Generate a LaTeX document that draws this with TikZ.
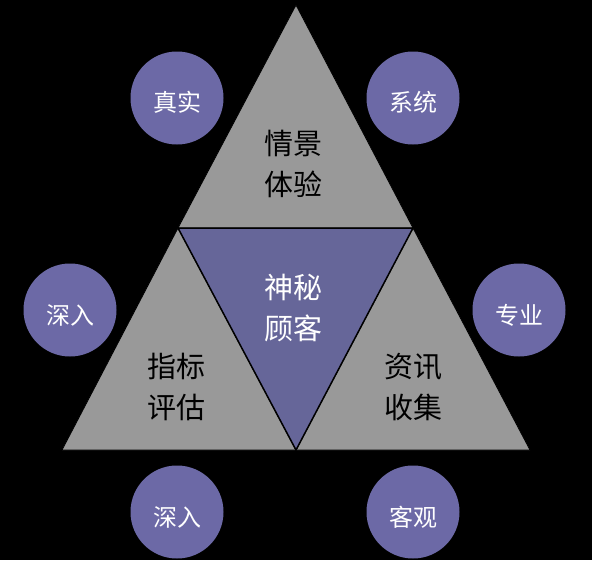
\documentclass[tikz,border=0pt]{standalone}
\usepackage{fontspec}
\newfontfamily\cjk{Noto Sans CJK SC}
\definecolor{trigray}{RGB}{153,153,153}
\definecolor{centerpurple}{RGB}{102,102,153}
\definecolor{circpurple}{RGB}{108,105,166}
\begin{document}
\begin{tikzpicture}[x=1pt,y=-1pt,
  tri/.style={fill=trigray,draw=black,line width=0.8pt,line join=miter},
  ctri/.style={fill=centerpurple,draw=black,line width=1.5pt,line join=miter},
  bubble/.style={circle,fill=circpurple,minimum size=93pt,inner sep=0pt},
  bubtext/.style={inner sep=0pt,text=white,font=\cjk\fontsize{24}{24}\selectfont},
  tlabel/.style={align=center,font=\cjk\fontsize{29}{41}\selectfont,text=black},
  clabel/.style={align=center,font=\cjk\fontsize{29}{41}\selectfont,text=white}]
\fill[black] (0,0) rectangle (592,560);
\useasboundingbox (0,0) rectangle (592,560);
\coordinate (A) at (296,5);
\coordinate (ML) at (178,228);
\coordinate (MR) at (413,228);
\coordinate (BL) at (62,450);
\coordinate (BM) at (296,450);
\coordinate (BR) at (530,450);
\draw[tri] (A) -- (MR) -- (ML) -- cycle;
\draw[tri] (ML) -- (BM) -- (BL) -- cycle;
\draw[tri] (MR) -- (BR) -- (BM) -- cycle;
\draw[ctri] (ML) -- (MR) -- (BM) -- cycle;
\node[tlabel] (top) at (293,164) {情景\\体验};
\node[tlabel] (left) at (176,387) {指标\\评估};
\node[tlabel] (right) at (413,387) {资讯\\收集};
\node[clabel] (mid) at (293,308) {神秘\\顾客};
\node[bubble] (c1) at (177,98) {};
\node[bubble] (c2) at (413,98) {};
\node[bubble] (c3) at (70,310) {};
\node[bubble] (c4) at (519,310) {};
\node[bubble] (c5) at (177,512) {};
\node[bubble] (c6) at (413,512) {};
\node[bubtext] (t1) at ([yshift=-4pt]c1.center) {真实};
\node[bubtext] (t2) at ([yshift=-4pt]c2.center) {系统};
\node[bubtext] (t3) at ([yshift=-5pt]c3.center) {深入};
\node[bubtext] (t4) at ([yshift=-5pt]c4.center) {专业};
\node[bubtext] (t5) at ([yshift=-5pt]c5.center) {深入};
\node[bubtext] (t6) at ([yshift=-5pt]c6.center) {客观};
\end{tikzpicture}
\end{document}
